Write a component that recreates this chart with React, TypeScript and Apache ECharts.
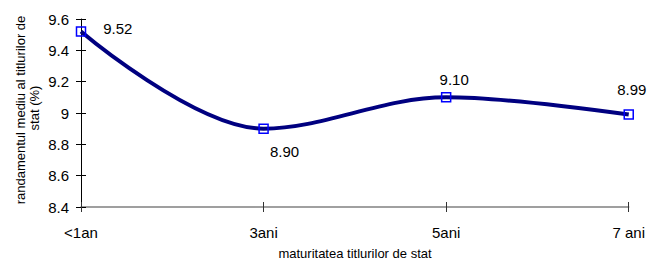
import React, { useEffect, useRef } from "react";
import * as echarts from "echarts";

const categories = ["<1an", "3ani", "5ani", "7 ani"];
const values = [9.52, 8.9, 9.1, 8.99];
const yMin = 8.4;
const yMax = 9.6;
const yStep = 0.2;
const yNameLines = ["randamentul mediu al titlurilor de", "stat (%)"];
const xName = "maturitatea titlurilor de stat";

const FONT = "'Liberation Sans', Arial, sans-serif";

export default function App() {
  const ref = useRef<HTMLDivElement>(null);
  useEffect(() => {
    if (!ref.current) return;
    const chart = echarts.init(ref.current, undefined, { renderer: "svg" });
    const labelOffsets: [string, number[]][] = [
      ["right", [12, -3]],
      ["bottom", [21, 5]],
      ["top", [8, 0]],
      ["top", [3, -7]],
    ];
    chart.setOption({
      animation: false,
      backgroundColor: "#ffffff",
      textStyle: { fontFamily: FONT },
      grid: { left: 81, right: 19, top: 19, bottom: 55 },
      xAxis: [
        {
          type: "category",
          data: categories,
          boundaryGap: false,
          axisLine: { lineStyle: { color: "#808080", width: 1.5 } },
          axisTick: { show: true, length: 5, lineStyle: { color: "#333" } },
          axisLabel: { color: "#000", fontSize: 15, margin: 18, fontFamily: FONT },
          splitLine: { show: false },
        },
        {
          type: "category",
          data: categories,
          boundaryGap: false,
          position: "bottom",
          axisLine: { show: false },
          axisTick: { show: true, inside: true, length: 5, lineStyle: { color: "#333" } },
          axisLabel: { show: false },
          splitLine: { show: false },
        },
      ],
      yAxis: [
        {
          type: "value",
          min: yMin,
          max: yMax,
          interval: yStep,
          axisLine: { show: true, lineStyle: { color: "#000", width: 1 } },
          axisTick: { show: true, length: 5, lineStyle: { color: "#000" } },
          axisLabel: { color: "#000", fontSize: 15, margin: 12, fontFamily: FONT },
          splitLine: { show: false },
        },
        {
          type: "value",
          min: yMin,
          max: yMax,
          interval: yStep,
          position: "left",
          axisLine: { show: false },
          axisTick: { show: true, inside: true, length: 5, lineStyle: { color: "#000" } },
          axisLabel: { show: false },
          splitLine: { show: false },
        },
      ],
      graphic: [
        {
          type: "text",
          x: 20,
          y: 110,
          rotation: Math.PI / 2,
          style: {
            text: yNameLines[0],
            fontSize: 13,
            fontFamily: FONT,
            fill: "#000",
            align: "center",
            verticalAlign: "middle",
          },
        },
        {
          type: "text",
          x: 34,
          y: 108,
          rotation: Math.PI / 2,
          style: {
            text: yNameLines[1],
            fontSize: 13,
            fontFamily: FONT,
            fill: "#000",
            align: "center",
            verticalAlign: "middle",
          },
        },
        {
          type: "text",
          x: 355,
          y: 253,
          style: {
            text: xName,
            fontSize: 13,
            fontFamily: FONT,
            fill: "#000",
            align: "center",
            verticalAlign: "middle",
          },
        },
      ],
      series: [
        {
          type: "line",
          xAxisIndex: 0,
          yAxisIndex: 0,
          smooth: 0.35,
          data: values.map((v, i) => ({
            value: v,
            label: {
              show: true,
              position: labelOffsets[i][0],
              offset: labelOffsets[i][1],
            },
          })),
          symbol: "rect",
          symbolSize: 9,
          lineStyle: { color: "#000080", width: 4 },
          itemStyle: { color: "rgba(0,0,0,0)", borderColor: "#0000ff", borderWidth: 1.5 },
          label: {
            show: true,
            color: "#000",
            fontSize: 15,
            fontFamily: FONT,
            formatter: (p: any) => Number(p.value).toFixed(2),
          },
          z: 3,
        },
      ],
    });
    return () => chart.dispose();
  }, []);
  return (
    <div
      ref={ref}
      style={{ position: "fixed", left: 0, top: 0, width: 648, height: 262 }}
    />
  );
}
